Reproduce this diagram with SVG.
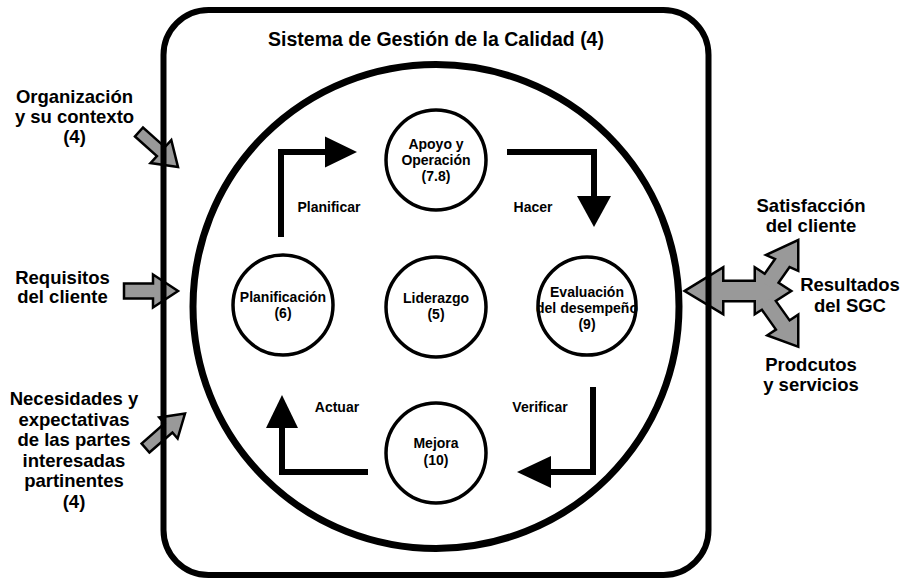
<svg xmlns="http://www.w3.org/2000/svg" width="901" height="579" viewBox="0 0 901 579">
<defs>
<style>
text{font-family:"Liberation Sans",Arial,sans-serif;font-weight:bold;fill:#000;text-anchor:middle}
.lbl{font-size:18.5px}
.ttl{font-size:19.5px}
.sm{font-size:14px}
.node{fill:#fff;stroke:#000;stroke-width:3.5}
.blk{fill:#999;stroke:#000;stroke-width:2.5;stroke-linejoin:miter}
.under{fill:#000;stroke:#000;stroke-width:5;stroke-linejoin:miter}
.over{fill:#999;stroke:none}
.flow{fill:none;stroke:#000;stroke-width:6;stroke-linejoin:miter;stroke-linecap:butt}
.head{fill:#000;stroke:none}
</style>
</defs>
<rect width="901" height="579" fill="#fff"/>

<g id="input-organizacion">
<polygon class="blk" points="135,136.5 156.9,156.1 150.5,163.1 178,167 171.3,140.1 164.9,147.1 143,127.5"/>
<text class="lbl" x="74.5" y="103">Organización</text>
<text class="lbl" x="74.5" y="123">y su contexto</text>
<text class="lbl" x="74.5" y="143">(4)</text>
</g>

<g id="input-requisitos">
<polygon class="blk" points="124,283.5 153,283.5 153,274.5 178,291 153,307.5 153,298.5 124,298.5"/>
<text class="lbl" x="62.5" y="284">Requisitos</text>
<text class="lbl" x="62.5" y="303">del cliente</text>
</g>

<g id="input-necesidades">
<polygon class="blk" points="149.4,452.5 172.4,432.5 177.6,438.5 185,413.5 159.2,417.5 164.5,423.5 141.6,443.5"/>
<text class="lbl" x="74" y="405">Necesidades y</text>
<text class="lbl" x="74" y="425.5">expectativas</text>
<text class="lbl" x="74" y="446">de las partes</text>
<text class="lbl" x="74" y="466.5">interesadas</text>
<text class="lbl" x="74" y="487">partinentes</text>
<text class="lbl" x="74" y="507.5">(4)</text>
</g>

<g id="outputs">
<g>
<polygon class="under" points="687,291 722,269.5 722,282 756,282 756,269.5 789,291 756,312 756,300 722,300 722,312"/>
<polygon class="under" points="760.8,281.5 776.9,258.5 769,255 797,242 797,269 789.1,265.5 773,288.5"/>
<polygon class="under" points="760.3,305.4 777.7,329.9 770,335 797,345 797,317 789.3,322.1 771.9,297.6"/>
<polygon class="over" points="687,291 722,269.5 722,282 756,282 756,269.5 789,291 756,312 756,300 722,300 722,312"/>
<polygon class="over" points="760.8,281.5 776.9,258.5 769,255 797,242 797,269 789.1,265.5 773,288.5"/>
<polygon class="over" points="760.3,305.4 777.7,329.9 770,335 797,345 797,317 789.3,322.1 771.9,297.6"/>
</g>
<text class="lbl" x="811" y="212">Satisfacción</text>
<text class="lbl" x="811" y="231.5">del cliente</text>
<text class="lbl" x="850" y="291">Resultados</text>
<text class="lbl" x="850" y="311.5">del SGC</text>
<text class="lbl" x="811" y="370.5">Prodcutos</text>
<text class="lbl" x="811" y="390.5">y servicios</text>
</g>

<g id="sistema">
<rect x="163.5" y="10" width="545" height="565" rx="45" ry="45" fill="none" stroke="#000" stroke-width="6"/>
<text class="ttl" x="436" y="46">Sistema de Gestión de la Calidad (4)</text>
</g>

<g id="ciclo">
<ellipse cx="436" cy="306.5" rx="243" ry="242" fill="none" stroke="#000" stroke-width="7"/>
</g>

<g id="connectors">
<polyline class="flow" points="281,237 281,152 326,152"/>
<polygon class="head" points="325,136.5 357,152 325,167.5"/>
<text class="sm" x="329" y="212">Planificar</text>
<polyline class="flow" points="507,152 594,152 594,197"/>
<polygon class="head" points="577,196 611,196 594,227"/>
<text class="sm" x="533" y="212">Hacer</text>
<polyline class="flow" points="593,387 593,472 550,472"/>
<polygon class="head" points="551,456 551,488 517,472"/>
<text class="sm" x="540" y="412">Verificar</text>
<polyline class="flow" points="368,472 282,472 282,428"/>
<polygon class="head" points="266,428 298,428 282,395"/>
<text class="sm" x="337" y="412">Actuar</text>
</g>

<g id="apoyo">
<circle class="node" cx="436" cy="160" r="50"/>
<text class="sm" x="436" y="149">Apoyo y</text>
<text class="sm" x="436" y="165">Operación</text>
<text class="sm" x="436" y="181">(7.8)</text>
</g>

<g id="planificacion">
<circle class="node" cx="283" cy="305" r="50"/>
<text class="sm" x="283" y="302">Planificación</text>
<text class="sm" x="283" y="318">(6)</text>
</g>

<g id="liderazgo">
<circle class="node" cx="436" cy="307" r="50"/>
<text class="sm" x="436" y="303">Liderazgo</text>
<text class="sm" x="436" y="319">(5)</text>
</g>

<g id="evaluacion">
<circle class="node" cx="587" cy="306" r="49"/>
<text class="sm" x="587" y="297">Evaluación</text>
<text class="sm" x="587" y="313">del desempeño</text>
<text class="sm" x="587" y="329">(9)</text>
</g>

<g id="mejora">
<circle class="node" cx="436" cy="453" r="50"/>
<text class="sm" x="436" y="448">Mejora</text>
<text class="sm" x="436" y="465">(10)</text>
</g>
</svg>
